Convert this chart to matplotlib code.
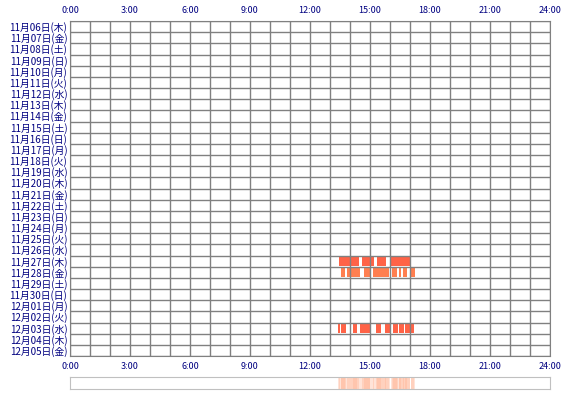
import matplotlib
matplotlib.use('Agg')
import matplotlib.pyplot as plt
import datetime as dt

plt.rcParams['font.family'] = ['Noto Sans CJK JP', 'DejaVu Sans']

start = dt.date(2025, 11, 6)
wd = ['月', '火', '水', '木', '金', '土', '日']
days = [start + dt.timedelta(days=i) for i in range(30)]
day_labels = ['%02d月%02d日(%s)' % (d.month, d.day, wd[d.weekday()]) for d in days]

hour_ticks = [0, 3, 6, 9, 12, 15, 18, 21, 24]
hour_labels = ['%d:00' % h for h in hour_ticks]

# sleep segments per row index (start hour, end hour)
seg_1127 = [(13.45, 14.45), (14.6, 15.2), (15.35, 15.8), (16.05, 17.0)]
seg_1128 = [(13.55, 13.75), (13.85, 14.5), (14.7, 15.0), (15.15, 15.95),
            (16.1, 16.35), (16.45, 16.55), (16.65, 16.85), (17.05, 17.25)]
seg_1203 = [(13.4, 13.5), (13.55, 13.8), (14.15, 14.35), (14.5, 15.0),
            (15.3, 15.55), (15.75, 16.0), (16.15, 16.4), (16.45, 16.7),
            (16.75, 17.0), (17.05, 17.2)]
segments = {21: (seg_1127, '#ff6347'), 22: (seg_1128, '#ff7f50'), 27: (seg_1203, '#ff6347')}

fig = plt.figure(figsize=(5.7, 4), dpi=100)
ax = fig.add_axes([70/570, 1-356/400, 480/570, 335/400])
for row, (segs, col) in segments.items():
    for a, b in segs:
        ax.barh(row, b - a, left=a, height=0.9, color=col, zorder=1)
ax.set_xlim(0, 24)
ax.set_ylim(29.5, -0.5)
for h in range(25):
    ax.axvline(h, color='#808080', lw=1, zorder=2)
for r in range(31):
    ax.axhline(r - 0.5, color='#808080', lw=1, zorder=2)
ax.set_xticks(hour_ticks)
ax.set_xticklabels(hour_labels)
ax.set_yticks(range(30))
ax.set_yticklabels(day_labels)
ax.tick_params(axis='x', top=True, labeltop=True, length=0, labelsize=6.5, colors='#000080', pad=4)
ax.tick_params(axis='y', length=0, labelsize=7, colors='#000080', pad=2)
for s in ax.spines.values():
    s.set_color('#808080')

ax2 = fig.add_axes([70/570, 1-389/400, 480/570, 12/400])
ax2.set_xlim(0, 24)
ax2.set_ylim(0, 1)
for segs, col in segments.values():
    for a, b in segs:
        ax2.axvspan(a, b, color='#ffb090', alpha=0.35, lw=0)
ax2.set_xticks([])
ax2.set_yticks([])
for s in ax2.spines.values():
    s.set_color('#c0c0c0')

fig.savefig('out.png', dpi=100)
